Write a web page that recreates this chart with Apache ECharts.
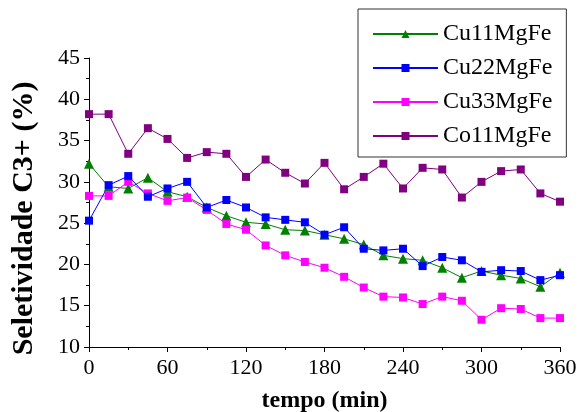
<!DOCTYPE html>
<html>
<head>
<meta charset="utf-8">
<script src="https://cdn.jsdelivr.net/npm/echarts@6/dist/echarts.min.js"></script>
<style>
html,body{margin:0;padding:0;background:#fff;}
#chart{width:581px;height:412px;}
</style>
</head>
<body>
<div id="chart"></div>
<script>
var tempo = [0,15,30,45,60,75,90,105,120,135,150,165,180,195,210,225,240,255,270,285,300,315,330,345,360];
var cu11 = [32.2,29.4,29.2,30.5,28.8,28.2,26.9,25.9,25.1,24.9,24.2,24.1,23.6,23.1,22.4,21.1,20.7,20.5,19.6,18.4,19.2,18.7,18.3,17.3,19.0];
var cu22 = [25.3,29.6,30.7,28.2,29.2,30.0,26.9,27.8,26.9,25.7,25.4,25.1,23.6,24.5,21.9,21.7,21.9,19.8,20.9,20.5,19.1,19.3,19.2,18.1,18.7];
var cu33 = [28.3,28.3,30.0,28.6,27.7,28.1,26.6,24.9,24.2,22.3,21.1,20.3,19.6,18.5,17.2,16.1,16.0,15.2,16.1,15.6,13.3,14.7,14.6,13.5,13.5];
var co11 = [38.2,38.2,33.4,36.5,35.2,32.9,33.6,33.4,30.6,32.7,31.1,29.8,32.3,29.1,30.6,32.2,29.2,31.7,31.5,28.1,30.0,31.3,31.5,28.6,27.6];
var seriesNames = ['Cu11MgFe','Cu22MgFe','Cu33MgFe','Co11MgFe'];
var xTitle = 'tempo (min)';
var yTitle = 'Seletividade C3+ (%)';

function pairs(ys){ return tempo.map(function(t,i){ return [t, ys[i]]; }); }

var font = 'Liberation Serif';
var chart = echarts.init(document.getElementById('chart'), null, {renderer:'canvas'});
function mk(name, data, color, symbol, size){
  return {
    name: name, type: 'line', data: pairs(data),
    symbol: symbol, symbolSize: size,
    lineStyle: {color: color, width: 1},
    itemStyle: {color: color},
    emphasis: {disabled: true}
  };
}
chart.setOption({
  animation: false,
  backgroundColor: '#fff',
  textStyle: {fontFamily: font},
  grid: {left: 89, right: 21, top: 58, bottom: 65, containLabel: false, outerBoundsMode: 'none'},
  legend: {
    left: 358, top: 9,
    orient: 'vertical',
    padding: [13, 14, 9, 14],
    borderColor: '#333', borderWidth: 1,
    itemWidth: 65, itemHeight: 10, itemGap: 10,
    textStyle: {fontFamily: font, fontSize: 24, color: '#000', lineHeight: 24},
    data: seriesNames
  },
  xAxis: {
    type: 'value', min: 0, max: 360, interval: 60,
    name: xTitle, nameLocation: 'middle', nameGap: 42,
    nameTextStyle: {fontFamily: font, fontSize: 24, fontWeight: 'bold', color: '#000'},
    axisLine: {show: true, onZero: false, lineStyle: {color: '#000', width: 1}},
    axisTick: {show: true, length: 5, lineStyle: {color: '#000'}},
    minorTick: {show: true, splitNumber: 2, length: 3, lineStyle: {color: '#000'}},
    axisLabel: {fontFamily: font, fontSize: 22, color: '#000', margin: 10},
    splitLine: {show: false}
  },
  yAxis: {
    type: 'value', min: 10, max: 45, interval: 5,
    name: yTitle, nameLocation: 'middle', nameGap: 50,
    nameTextStyle: {fontFamily: font, fontSize: 30, fontWeight: 'bold', color: '#000', padding: [0, 32, 0, 0]},
    axisLine: {show: true, lineStyle: {color: '#000', width: 1}},
    axisTick: {show: true, length: 5, lineStyle: {color: '#000'}},
    minorTick: {show: true, splitNumber: 2, length: 3, lineStyle: {color: '#000'}},
    axisLabel: {fontFamily: font, fontSize: 22, color: '#000', margin: 9},
    splitLine: {show: false}
  },
  series: [
    mk(seriesNames[3], co11, '#800080', 'rect', 8),
    mk(seriesNames[0], cu11, '#008000', 'triangle', 10),
    mk(seriesNames[2], cu33, '#FF00FF', 'rect', 8),
    mk(seriesNames[1], cu22, '#0000FF', 'rect', 8)
  ]
});
</script>
</body>
</html>
